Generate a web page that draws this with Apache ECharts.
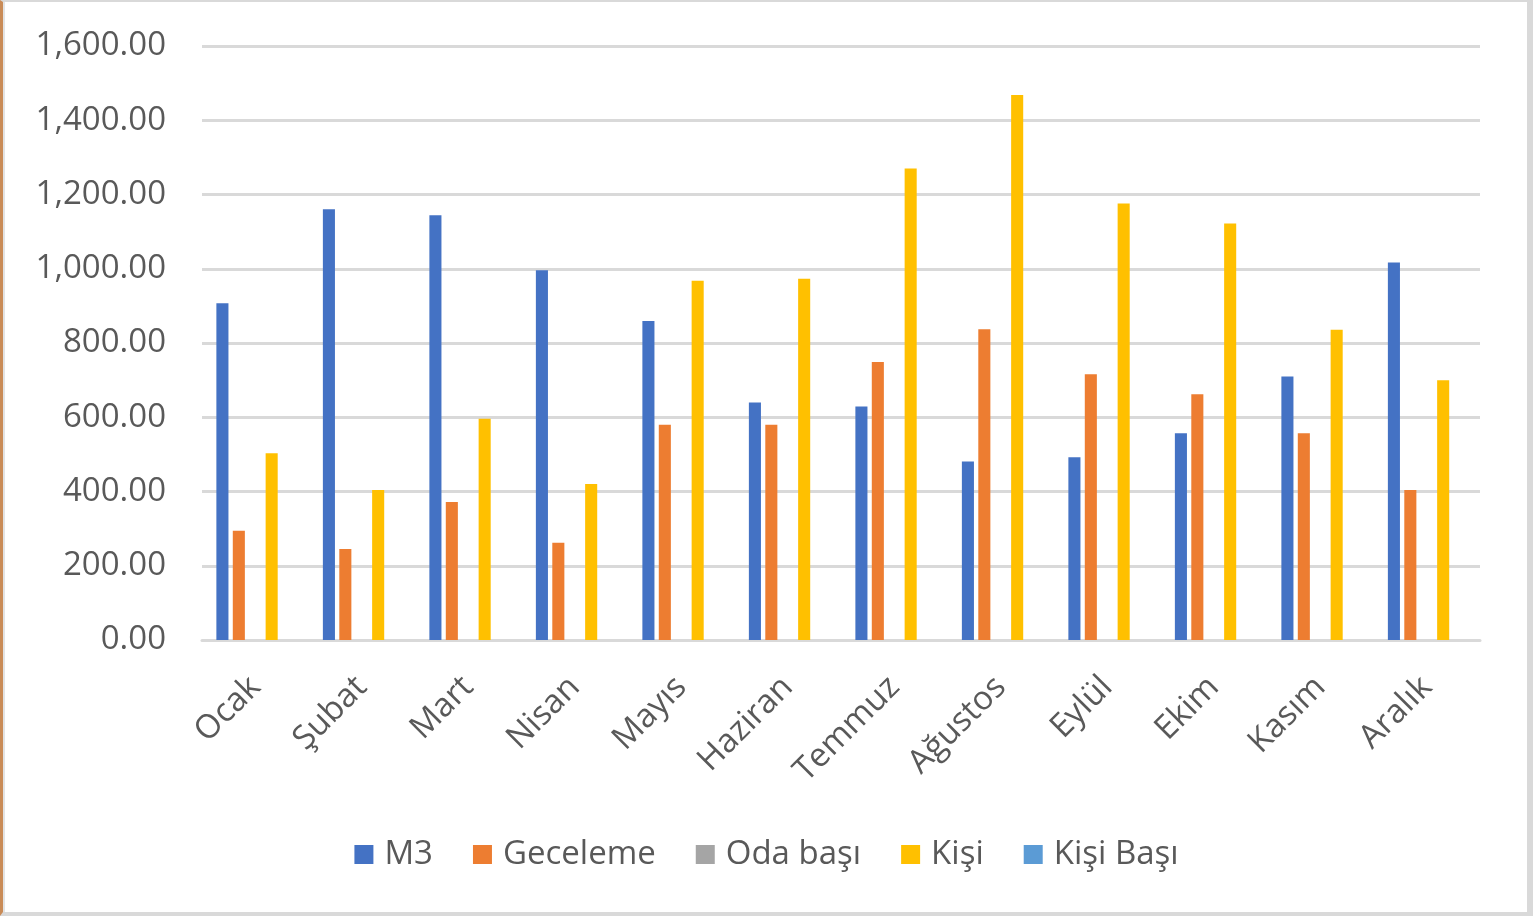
<!DOCTYPE html>
<html>
<head>
<meta charset="utf-8">
<script src="https://cdn.jsdelivr.net/npm/echarts@6/dist/echarts.min.js"></script>
<style>
html,body{margin:0;padding:0;background:#fff;}
#frame{position:absolute;left:0;top:0;width:1533px;height:916px;box-sizing:border-box;
  border-top:2px solid #d9d9d9;border-right:6px solid #d9d9d9;border-bottom:4px solid #d9d9d9;border-left:3px solid #c98b57;}
#inner{position:absolute;left:0;top:0;right:0;bottom:0;border-left:2px solid #e3e3e3;}
#chart{position:absolute;left:0;top:0;width:1533px;height:916px;}
</style>
</head>
<body>
<div id="frame"><div id="inner"></div></div>
<div id="chart"></div>
<script>
const categories = ['Ocak','Şubat','Mart','Nisan','Mayıs','Haziran','Temmuz','Ağustos','Eylül','Ekim','Kasım','Aralık'];
const m3       = [907, 1160, 1144, 996, 859, 640, 629, 481, 492, 557, 710, 1017];
const geceleme = [294, 245, 372, 262, 580, 580, 749, 837, 716, 662, 557, 404];
const odaBasi  = [0, 0, 0, 0, 0, 0, 0, 0, 0, 0, 0, 0];
const kisi     = [503, 404, 596, 420, 968, 973, 1270, 1468, 1176, 1122, 836, 700];
const kisiBasi = [0, 0, 0, 0, 0, 0, 0, 0, 0, 0, 0, 0];
const yTicks   = [0, 200, 400, 600, 800, 1000, 1200, 1400, 1600];

const font = '"Open Sans", "Noto Sans", sans-serif';
const chart = echarts.init(document.getElementById('chart'), null, {renderer:'canvas'});
function fmt(v){
  return v.toLocaleString('en-US',{minimumFractionDigits:2,maximumFractionDigits:2});
}
const names = ['M3','Geceleme','Oda başı','Kişi','Kişi Başı'];
const colors = ['#4472C4','#ED7D31','#A5A5A5','#FFC000','#5B9BD5'];
const datas = [m3, geceleme, odaBasi, kisi, kisiBasi];
chart.setOption({
  animation:false,
  backgroundColor:'transparent',
  grid:{left:202,right:53,top:46,bottom:276,containLabel:false},
  legend:{
    data:names, bottom:40, left:'center',
    itemWidth:19, itemHeight:19, itemGap:40, icon:'rect',
    textStyle:{color:'#595959', fontSize:33, fontFamily:font, padding:[0,0,0,6]}
  },
  xAxis:{
    type:'category', data:categories,
    axisLine:{lineStyle:{color:'#d9d9d9', width:3}},
    axisTick:{show:false},
    axisLabel:{rotate:45, color:'#595959', fontSize:33, fontFamily:font, margin:42, interval:0}
  },
  yAxis:{
    type:'value', min:yTicks[0], max:yTicks[yTicks.length-1], interval:200,
    axisLine:{show:false}, axisTick:{show:false},
    splitLine:{lineStyle:{color:'#d9d9d9', width:3}},
    axisLabel:{color:'#595959', fontSize:33, fontFamily:font, margin:36, formatter:fmt}
  },
  series: names.map((n,i)=>({
    name:n, type:'bar', data:datas[i],
    itemStyle:{color:colors[i]},
    barGap:'36%', barCategoryGap:'27%'
  }))
});
</script>
</body>
</html>
